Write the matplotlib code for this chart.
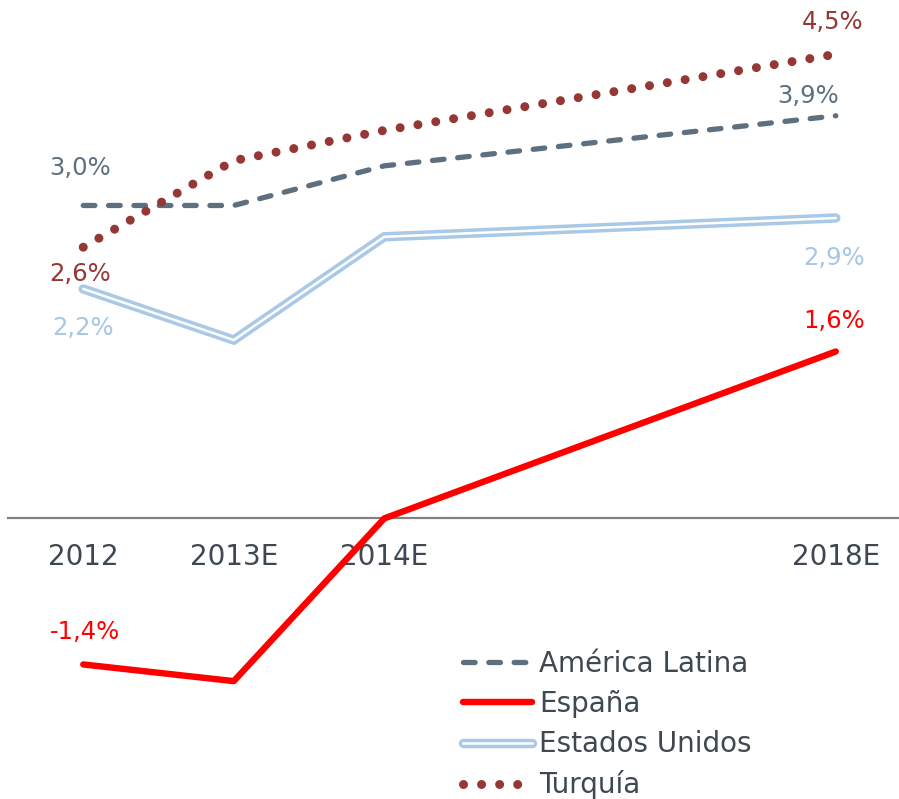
import matplotlib
matplotlib.use("Agg")
import matplotlib.pyplot as plt
from matplotlib.lines import Line2D

# Datos
categorias = ["2012", "2013E", "2014E", "2018E"]
posiciones = [0, 1, 2, 5]

america_latina = [3.0, 3.0, 3.38, 3.86]
espana = [-1.4, -1.56, 0.0, 1.6]
estados_unidos = [2.2, 1.71, 2.70, 2.88]
turquia = [2.6, 3.43, 3.72, 4.45]

etiquetas_ini = {"América Latina": "3,0%", "España": "-1,4%",
                 "Estados Unidos": "2,2%", "Turquía": "2,6%"}
etiquetas_fin = {"América Latina": "3,9%", "España": "1,6%",
                 "Estados Unidos": "2,9%", "Turquía": "4,5%"}

c_amlat = "#5E707F"
c_esp = "#FF0000"
c_eeuu = "#A9C9E7"
c_tur = "#953735"
c_texto = "#3E4852"

plt.rcParams["font.family"] = "DejaVu Sans"

fig = plt.figure(figsize=(8.99, 7.99), dpi=100)
ax = fig.add_axes([8 / 899, 0, 891 / 899, 1])
ax.set_xlim(-0.5, 5.42)
ax.set_ylim(-2.69, 4.97)

# Líneas
ax.plot(posiciones, america_latina, color=c_amlat, lw=3.8,
        linestyle=(0, (2.2, 2.6)), dash_capstyle="round", zorder=3)
ax.plot(posiciones, estados_unidos, color=c_eeuu, lw=6.8,
        solid_capstyle="round", solid_joinstyle="miter", zorder=3)
ax.plot(posiciones, estados_unidos, color="white", lw=1.8,
        solid_capstyle="round", solid_joinstyle="miter", zorder=3.1)
ax.plot(posiciones, turquia, color=c_tur, lw=6.5,
        linestyle=(0, (0.001, 2.0)), dash_capstyle="round", zorder=3)
ax.plot(posiciones, espana, color=c_esp, lw=4.6,
        solid_capstyle="round", zorder=3.2)

# Etiquetas de datos
fs = 17.5
series = [("América Latina", america_latina, c_amlat, (-2, 27), (-20, 14)),
          ("Turquía", turquia, c_tur, (-2, -19), (-2, 23)),
          ("Estados Unidos", estados_unidos, "#A5C6E5", (0, -28), (-1, -29)),
          ("España", espana, c_esp, (1, 23), (-1, 22))]
for nombre, valores, color, off_ini, off_fin in series:
    ax.annotate(etiquetas_ini[nombre], (posiciones[0], valores[0]),
                xytext=off_ini, textcoords="offset points",
                ha="center", va="center", fontsize=fs, color=color)
    ax.annotate(etiquetas_fin[nombre], (posiciones[-1], valores[-1]),
                xytext=off_fin, textcoords="offset points",
                ha="center", va="center", fontsize=fs, color=color)

# Ejes
for lado in ["top", "left", "right"]:
    ax.spines[lado].set_visible(False)
ax.spines["bottom"].set_position(("data", 0))
ax.spines["bottom"].set_color("#808080")
ax.spines["bottom"].set_linewidth(1.6)
ax.set_xticks(posiciones)
ax.set_xticklabels(categorias, fontsize=20, color=c_texto)
ax.tick_params(axis="x", length=0, pad=18)
ax.set_yticks([])

# Leyenda
h_amlat = Line2D([], [], color=c_amlat, lw=3.8, linestyle=(0, (2.2, 2.6)),
                 dash_capstyle="round")
h_esp = Line2D([], [], color=c_esp, lw=4.6, solid_capstyle="round")
h_eeuu = (Line2D([], [], color=c_eeuu, lw=6.8, solid_capstyle="round"),
          Line2D([], [], color="white", lw=1.8))
h_tur = Line2D([], [], color=c_tur, lw=6.5, linestyle=(0, (0.001, 2.0)),
               dash_capstyle="round")
leg = ax.legend([h_amlat, h_esp, h_eeuu, h_tur],
                ["América Latina", "España", "Estados Unidos", "Turquía"],
                loc="lower left", bbox_to_anchor=(457 / 899, -6 / 799),
                bbox_transform=fig.transFigure, frameon=False,
                fontsize=20, handlelength=2.5, handletextpad=0.25,
                labelspacing=0.44, borderpad=0.2, borderaxespad=0)
for t in leg.get_texts():
    t.set_color(c_texto)

fig.savefig("out.png", dpi=100)
